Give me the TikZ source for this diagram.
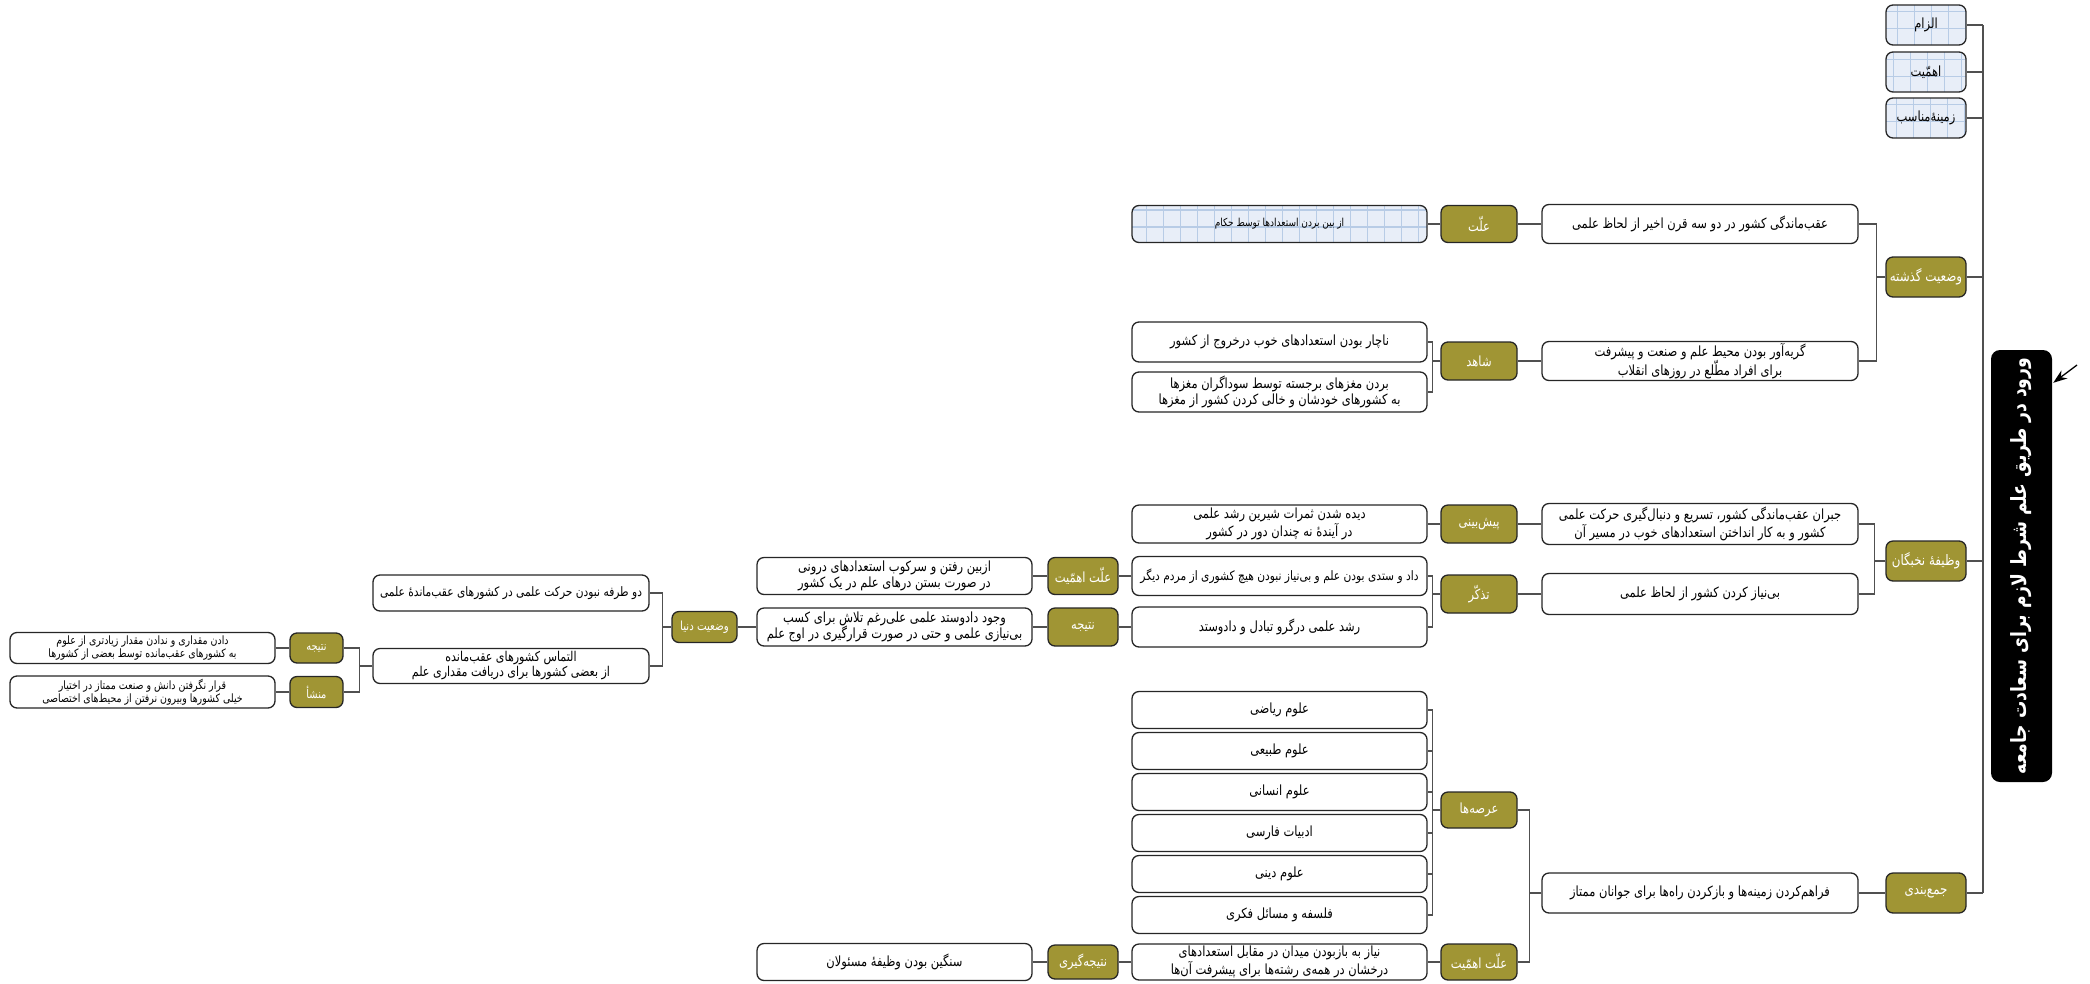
\documentclass[tikz,border=0pt]{standalone}
\usepackage{fontspec}
\usetikzlibrary{calc,arrows.meta}
\TeXXeTstate=1
\newfontfamily\fafont[Script=Arabic,FakeStretch=0.82]{DejaVu Sans}
\newcommand\fa[1]{\beginR #1\endR}
\definecolor{olivebox}{HTML}{A09534}
\definecolor{gridfill}{HTML}{E8EEF8}
\definecolor{gridline}{HTML}{B8CCE6}
\definecolor{conn}{HTML}{505050}
\tikzset{
  sz/.style 2 args={minimum width=#1pt, minimum height=#2pt},
  basebox/.style={draw=black!85, line width=1.3pt, rounded corners=7pt, inner sep=1pt, align=center,
     font=\fafont\fontsize{14}{16.5}\selectfont},
  leaf/.style={basebox, fill=white},
  tightleaf/.style={leaf, font=\fafont\fontsize{13}{15}\selectfont},
  smallleaf/.style={leaf, font=\fafont\fontsize{11.5}{12.5}\selectfont},
  olive/.style={basebox, fill=olivebox, text=white, font=\fafont\fontsize{14}{16}\selectfont},
  topolive/.style={olive, font=\fafont\fontsize{14.5}{16}\selectfont},
  gridbox/.style={basebox, fill=gridfill,
     path picture={\draw[gridline, line width=1.4pt] (path picture bounding box.south west) grid[step=17pt] (path picture bounding box.north east);}},
  rootbox/.style={fill=black, text=white, rounded corners=9pt, rotate=90, inner sep=2pt,
     font=\fafont\bfseries\fontsize{21}{24}\selectfont},
  link/.style={draw=conn, line width=1.4pt},
  pointer/.style={draw=black, line width=1.3pt, -{Stealth[length=14pt,width=10pt]}}
}
\begin{document}
\begin{tikzpicture}[x=1pt,y=-1pt]
\useasboundingbox (0,0) rectangle (2090,983);

% root
\node[rootbox, sz={432}{61}] (root) at (2021.5,566) {\fa{ورود در طریق علم شرط لازم برای سعادت جامعه}};
\coordinate (arrS) at (2077,365);
\draw[pointer] (arrS) -- ($(root.south east)+(1,33)$);

% trunk
\coordinate (trTop) at (1983,25);
\coordinate (trBot) at (1983,893);
\draw[link] (trTop) -- (trBot);

% level 1
\node[gridbox, sz={80}{40}] (lzam) at (1926,25) {\fa{الزام}};
\node[gridbox, sz={80}{40}] (ahmt) at (1926,72) {\fa{اهمّیت}};
\node[gridbox, sz={80}{40}] (zmn) at (1926,118) {\fa{زمینهٔ‌مناسب}};
\node[topolive, sz={80}{40}] (gz) at (1926,277) {\fa{وضعیت گذشته}};
\node[topolive, sz={80}{40}] (nk) at (1926,561) {\fa{وظیفهٔ نخبگان}};
\node[topolive, sz={80}{40}] (jam) at (1926,893) {\fa{جمع‌بندی}};
\foreach \n in {lzam,ahmt,zmn,gz,nk,jam} \draw[link] (\n.east) -- (\n.east -| trTop);

% past situation
\node[leaf, sz={316}{39}] (c1) at (1700,224) {\fa{عقب‌ماندگی کشور در دو سه قرن اخیر از لحاظ علمی}};
\node[leaf, sz={316}{39}] (c2) at (1700,361) {\fa{گریه‌آور بودن محیط علم و صنعت و پیشرفت}\\\fa{برای افراد مطّلع در روزهای انقلاب}};
\foreach \c in {c1,c2} \draw[link] (gz.west) -- ++(-9,0) |- (\c.east);
\node[olive, sz={76}{37}] (ell) at (1479,224) {\fa{علّت}};
\node[olive, sz={76}{38}] (shd) at (1479,361) {\fa{شاهد}};
\draw[link] (c1.west) -- (ell.east);
\draw[link] (c2.west) -- (shd.east);
\node[gridbox, sz={295}{37}, font=\fafont\fontsize{11}{13}\selectfont] (g1) at (1279.5,224) {\fa{از بین بردن استعدادها توسط حکام}};
\draw[link] (ell.west) -- (g1.east);
\node[leaf, sz={295}{40}] (s1) at (1279.5,342) {\fa{ناچار بودن استعدادهای خوب درخروج از کشور}};
\node[leaf, sz={295}{40}] (s2) at (1279.5,392) {\fa{بردن مغزهای برجسته توسط سوداگران مغزها}\\\fa{به کشورهای خودشان و خالی کردن کشور از مغزها}};
\foreach \c in {s1,s2} \draw[link] (shd.west) -- ++(-8,0) |- (\c.east);

% elites duty
\node[leaf, sz={316}{41}] (m1) at (1700,524) {\fa{جبران عقب‌ماندگی کشور، تسریع و دنبال‌گیری حرکت علمی}\\\fa{کشور و به کار انداختن استعدادهای خوب در مسیر آن}};
\node[leaf, sz={316}{41}] (m2) at (1700,594) {\fa{بی‌نیاز کردن کشور از لحاظ علمی}};
\foreach \c in {m1,m2} \draw[link] (nk.west) -- ++(-11,0) |- (\c.east);
\node[olive, sz={76}{38}] (pb) at (1479,524) {\fa{پیش‌بینی}};
\node[olive, sz={76}{38}] (tz) at (1479,594) {\fa{تذکّر}};
\draw[link] (m1.west) -- (pb.east);
\draw[link] (m2.west) -- (tz.east);
\node[leaf, sz={295}{38}] (p1) at (1279.5,524) {\fa{دیده شدن ثمرات شیرین رشد علمی}\\\fa{در آیندهٔ نه چندان دور در کشور}};
\draw[link] (pb.west) -- (p1.east);
\node[tightleaf, sz={295}{39}] (t1) at (1279.5,576) {\fa{داد و ستدی بودن علم و بی‌نیاز نبودن هیچ کشوری از مردم دیگر}};
\node[leaf, sz={295}{40}] (t2) at (1279.5,627) {\fa{رشد علمی درگرو تبادل و دادوستد}};
\foreach \c in {t1,t2} \draw[link] (tz.west) -- ++(-8,0) |- (\c.east);
\node[olive, sz={70}{37}] (ellA) at (1083,576) {\fa{علّت اهمّیت}};
\node[olive, sz={70}{38}] (nat) at (1083,627) {\fa{نتیجه}};
\draw[link] (t1.west) -- (ellA.east);
\draw[link] (t2.west) -- (nat.east);
\node[leaf, sz={275}{37}] (e1) at (894.5,576) {\fa{ازبین رفتن و سرکوب استعدادهای درونی}\\\fa{در صورت بستن درهای علم در یک کشور}};
\node[leaf, sz={275}{38}] (n1) at (894.5,627) {\fa{وجود دادوستد علمی علی‌رغم تلاش برای کسب}\\\fa{بی‌نیازی علمی و حتی در صورت قرارگیری در اوج علم}};
\draw[link] (ellA.west) -- (e1.east);
\draw[link] (nat.west) -- (n1.east);
\node[olive, sz={65}{31}, font=\fafont\fontsize{12.5}{14}\selectfont] (donya) at (704.5,627) {\fa{وضعیت دنیا}};
\draw[link] (n1.west) -- (donya.east);
\node[tightleaf, sz={276}{36}] (d1) at (511,593) {\fa{دو طرفه نبودن حرکت علمی در کشورهای عقب‌ماندهٔ علمی}};
\node[leaf, sz={276}{35}, font=\fafont\fontsize{13.5}{15}\selectfont] (d2) at (511,666) {\fa{التماس کشورهای عقب‌مانده}\\\fa{از بعضی کشورها برای دریافت مقداری علم}};
\foreach \c in {d1,d2} \draw[link] (donya.west) -- ++(-9,0) |- (\c.east);
\node[olive, sz={53}{30}, font=\fafont\fontsize{12}{13}\selectfont] (nat2) at (316.5,648) {\fa{نتیجه}};
\node[olive, sz={53}{31}, font=\fafont\fontsize{12}{13}\selectfont] (mansha) at (316.5,692) {\fa{منشأ}};
\foreach \c in {nat2,mansha} \draw[link] (d2.west) -- ++(-13,0) |- (\c.east);
\node[smallleaf, sz={265}{31}] (l1) at (142.5,648) {\fa{دادن مقداری و ندادن مقدار زیادتری از علوم}\\\fa{به کشورهای عقب‌مانده توسط بعضی از کشورها}};
\node[smallleaf, sz={265}{32}] (l2) at (142.5,692) {\fa{قرار نگرفتن دانش و صنعت ممتاز در اختیار}\\\fa{خیلی کشورها وبیرون نرفتن از محیط‌های اختصاصی}};
\draw[link] (nat2.west) -- (l1.east);
\draw[link] (mansha.west) -- (l2.east);

% summary
\node[leaf, sz={316}{40}] (f1) at (1700,893) {\fa{فراهم‌کردن زمینه‌ها و بازکردن راه‌ها برای جوانان ممتاز}};
\draw[link] (jam.west) -- (f1.east);
\node[olive, sz={76}{36}] (arse) at (1479,810) {\fa{عرصه‌ها}};
\node[olive, sz={76}{36}] (ellB) at (1479,962) {\fa{علّت اهمّیت}};
\foreach \c in {arse,ellB} \draw[link] (f1.west) -- ++(-12,0) |- (\c.east);
\node[leaf, sz={295}{37}] (r1) at (1279.5,710) {\fa{علوم ریاضی}};
\node[leaf, sz={295}{37}] (r2) at (1279.5,751) {\fa{علوم طبیعی}};
\node[leaf, sz={295}{37}] (r3) at (1279.5,792) {\fa{علوم انسانی}};
\node[leaf, sz={295}{37}] (r4) at (1279.5,833) {\fa{ادبیات فارسی}};
\node[leaf, sz={295}{37}] (r5) at (1279.5,874) {\fa{علوم دینی}};
\node[leaf, sz={295}{37}] (r6) at (1279.5,915) {\fa{فلسفه و مسائل فکری}};
\foreach \c in {r1,r2,r3,r4,r5,r6} \draw[link] (arse.west) -- ++(-8,0) |- (\c.east);
\node[leaf, sz={295}{36}] (nb) at (1279.5,962) {\fa{نیاز به بازبودن میدان در مقابل استعدادهای}\\\fa{درخشان در همه‌ی رشته‌ها برای پیشرفت آن‌ها}};
\draw[link] (ellB.west) -- (nb.east);
\node[olive, sz={70}{34}] (natg) at (1083,962) {\fa{نتیجه‌گیری}};
\draw[link] (nb.west) -- (natg.east);
\node[leaf, sz={275}{37}] (sng) at (894.5,962) {\fa{سنگین بودن وظیفهٔ مسئولان}};
\draw[link] (natg.west) -- (sng.east);
\end{tikzpicture}
\end{document}
